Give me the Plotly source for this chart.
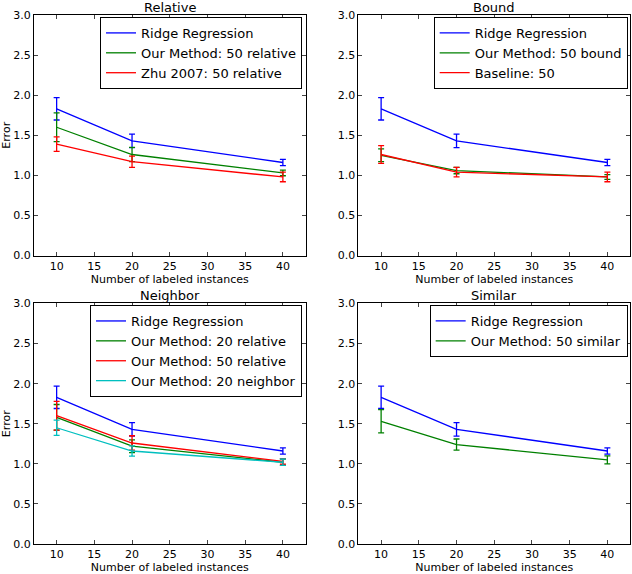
import plotly.graph_objects as go
from plotly.subplots import make_subplots

# shared x values (number of labeled instances)
n_labeled = [10, 20, 40]

# ridge regression baseline, drawn in every panel
ridge_mean = [1.83, 1.43, 1.16]
ridge_err = [0.14, 0.085, 0.04]

# Relative panel
ours_rel50_mean = [1.60, 1.26, 1.03]
ours_rel50_err = [0.18, 0.09, 0.035]
zhu_rel50_mean = [1.39, 1.17, 0.98]
zhu_rel50_err = [0.09, 0.07, 0.06]

# Bound panel
ours_bound_mean = [1.25, 1.06, 0.98]
ours_bound_err = [0.08, 0.04, 0.03]
baseline_mean = [1.26, 1.04, 0.98]
baseline_err = [0.11, 0.06, 0.06]

# Neighbor panel
ours_rel20_mean = [1.58, 1.22, 1.02]
ours_rel20_err = [0.16, 0.08, 0.04]
ours_nb20_mean = [1.45, 1.16, 1.02]
ours_nb20_err = [0.095, 0.065, 0.04]

# Similar panel
ours_sim_mean = [1.53, 1.24, 1.05]
ours_sim_err = [0.145, 0.07, 0.05]

panel_titles = ['Relative', 'Bound', 'Neighbor', 'Similar']
y_ticks = [0.0, 0.5, 1.0, 1.5, 2.0, 2.5, 3.0]
x_ticks = [10, 15, 20, 25, 30, 35, 40]

BLUE = '#0000ff'
GREEN = '#008000'
RED = '#ff0000'
CYAN = '#00bfbf'
FONT = 'DejaVu Sans'

panels = [
    [('Ridge Regression', ridge_mean, ridge_err, BLUE),
     ('Our Method: 50 relative', ours_rel50_mean, ours_rel50_err, GREEN),
     ('Zhu 2007: 50 relative', zhu_rel50_mean, zhu_rel50_err, RED)],
    [('Ridge Regression', ridge_mean, ridge_err, BLUE),
     ('Our Method: 50 bound', ours_bound_mean, ours_bound_err, GREEN),
     ('Baseline: 50', baseline_mean, baseline_err, RED)],
    [('Ridge Regression', ridge_mean, ridge_err, BLUE),
     ('Our Method: 20 relative', ours_rel20_mean, ours_rel20_err, GREEN),
     ('Our Method: 50 relative', ours_rel50_mean, ours_rel50_err, RED),
     ('Our Method: 20 neighbor', ours_nb20_mean, ours_nb20_err, CYAN)],
    [('Ridge Regression', ridge_mean, ridge_err, BLUE),
     ('Our Method: 50 similar', ours_sim_mean, ours_sim_err, GREEN)],
]

# legend anchor (upper right corner of each legend box, paper coords)
legend_pos = [(0.4497, 0.9963), (0.9961, 0.9963), (0.4497, 0.4518), (0.9961, 0.4518)]

fig = make_subplots(rows=2, cols=2, subplot_titles=panel_titles,
                    horizontal_spacing=0.0889, vertical_spacing=0.0907)

for k, series in enumerate(panels):
    row, col = k // 2 + 1, k % 2 + 1
    legend_name = 'legend' if k == 0 else f'legend{k + 1}'
    for name, mean, err, color in series:
        fig.add_trace(go.Scatter(x=n_labeled, y=mean, name=name, mode='lines',
                                 line=dict(color=color, width=1.3),
                                 error_y=dict(type='data', array=err, color=color,
                                              thickness=1.3, width=3),
                                 legend=legend_name),
                      row=row, col=col)
    lx, ly = legend_pos[k]
    fig.update_layout({legend_name: dict(x=lx, y=ly, xanchor='right', yanchor='top',
                                         bgcolor='white', bordercolor='black', borderwidth=1,
                                         font=dict(family=FONT, size=13, color='black'),
                                         tracegroupgap=0)})

fig.update_xaxes(range=[7, 43], tickvals=x_ticks, ticks='inside', ticklen=4,
                 showline=True, linecolor='black', linewidth=1, mirror='allticks',
                 showgrid=False, zeroline=False,
                 tickfont=dict(family=FONT, size=11, color='black'),
                 title=dict(text='Number of labeled instances', standoff=2,
                            font=dict(family=FONT, size=11, color='black')))
fig.update_yaxes(range=[0, 3], tickvals=y_ticks, tickformat='.1f', ticks='inside', ticklen=4,
                 showline=True, linecolor='black', linewidth=1, mirror='allticks',
                 showgrid=False, zeroline=False,
                 tickfont=dict(family=FONT, size=11, color='black'))
fig.update_yaxes(title=dict(text='Error', standoff=4,
                            font=dict(family=FONT, size=11, color='black')), col=1)

for ann in fig.layout.annotations:
    ann.font = dict(family=FONT, size=13, color='black')
    ann.yshift = -2

fig.update_layout(width=632, height=574, plot_bgcolor='white', paper_bgcolor='white',
                  margin=dict(l=34, r=2, t=15, b=30), showlegend=True)

# drop the browser's default body margin so the figure fills the window
fig.write_html("out.html", config={'displayModeBar': False},
               post_script="document.body.style.margin='0';")
